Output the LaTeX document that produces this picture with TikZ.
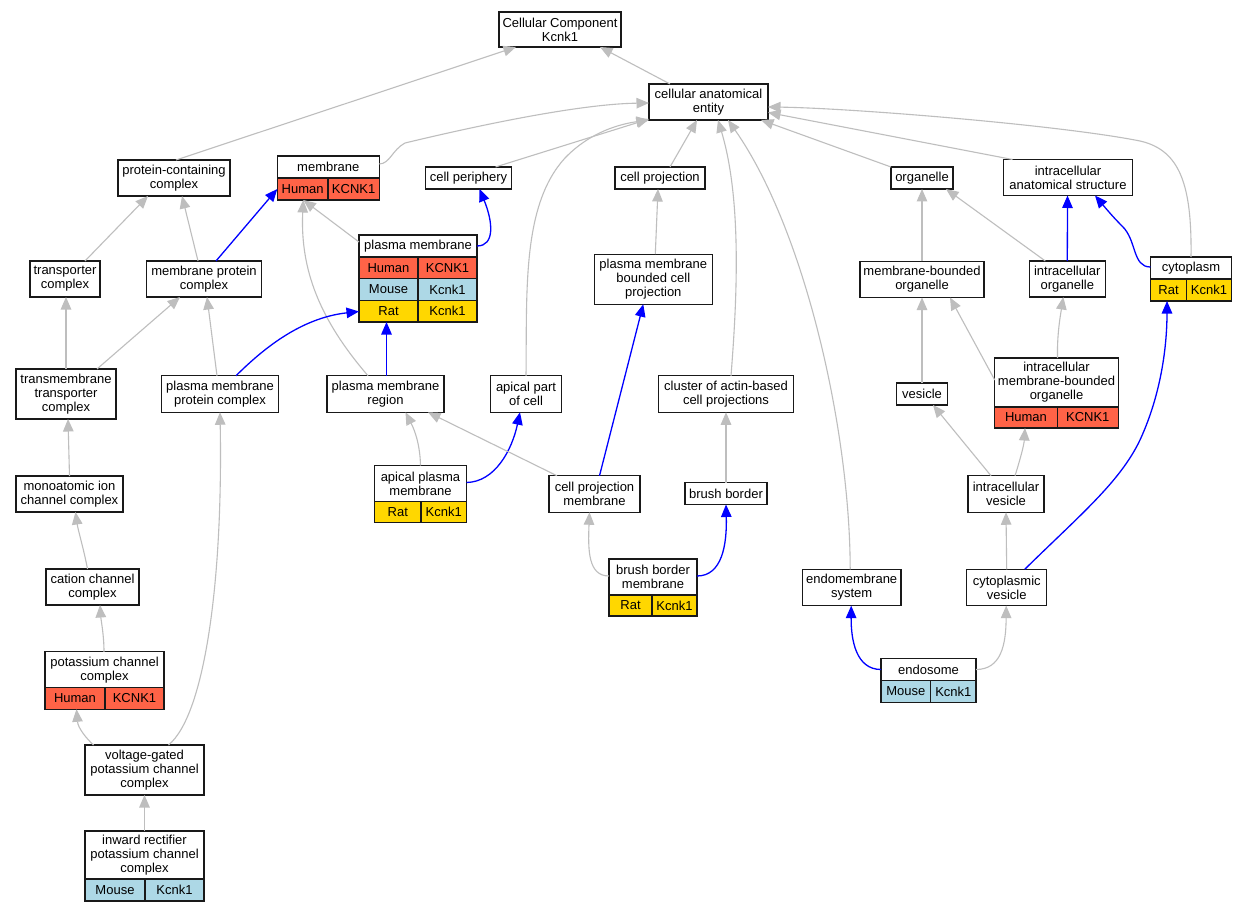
\documentclass[tikz,border=0pt]{standalone}
\usepackage{fontspec}
\setmainfont{Liberation Sans}
\usetikzlibrary{arrows.meta,calc}
\definecolor{human}{HTML}{FF6347}
\definecolor{mouse}{HTML}{ADD8E6}
\definecolor{rat}{HTML}{FFD700}
\definecolor{edgegray}{HTML}{BEBEBE}
\definecolor{edgeblue}{HTML}{0000FF}
\tikzset{
  box/.style={draw=black!90, line width=1.1pt, fill=white, inner sep=0pt, outer sep=0pt, align=center, font=\fontsize{13}{14}\selectfont},
  cellbox/.style={box},
  framebox/.style={inner sep=0pt, outer sep=0pt},
  grayedge/.style={draw=edgegray, line width=1.1pt, -{Triangle[length=12.5pt,width=10.5pt]}},
  blueedge/.style={draw=edgeblue, line width=1.3pt, -{Triangle[length=12.5pt,width=10.5pt]}},
}
\newcommand\bx[5]{\node[box, minimum width=#4, minimum height=#5] (#1) at (#2) {#3};}
\newcommand\tbl[6]{%
  \node[framebox, minimum width=#4, minimum height=#5] (#1) at (#2) {};
  \node[box, anchor=north, minimum width=#4, minimum height=#6] (#1-h) at (#1.north) {#3};}
\newcommand\trow[9]{%
  \node[cellbox, fill=#7, anchor=north west, minimum width=#4, minimum height=#6] (#1-#2a) at ($(#1.north west)+(0,#3)$) {#8};
  \node[cellbox, fill=#7, anchor=north east, minimum width=#5-#4, minimum height=#6] (#1-#2b) at ($(#1.north east)+(0,#3)$) {#9};}
\begin{document}
\begin{tikzpicture}[x=1pt,y=-1pt]
\fill[white] (0,0) rectangle (1248,912);
\useasboundingbox (0,0) rectangle (1248,912);
% plain boxes
\bx{cc}{560,29.5}{Cellular Component\\Kcnk1}{122}{35}
\bx{cae}{708.5,102}{cellular anatomical\\entity}{119}{36}
\bx{pcc}{174,178}{protein-containing\\complex}{112}{36}
\bx{cper}{468.5,178}{cell periphery}{86}{22}
\bx{cproj}{660,178}{cell projection}{90}{22}
\bx{org}{922,178}{organelle}{62}{22}
\bx{ias}{1068,177.5}{intracellular\\anatomical structure}{129}{36}
\bx{tc}{65,279}{transporter\\complex}{70}{36}
\bx{mpc}{204,279}{membrane protein\\complex}{115}{36}
\bx{pmbcp}{653.3,279.2}{plasma membrane\\bounded cell\\projection}{118}{50}
\bx{mbo}{922,279.5}{membrane-bounded\\organelle}{124}{36}
\bx{io}{1067.3,279}{intracellular\\organelle}{76}{36}
\bx{ttc}{66,394}{transmembrane\\transporter\\complex}{100}{50}
\bx{pmpc}{220,394}{plasma membrane\\protein complex}{117.5}{36.5}
\bx{pmr}{385.5,394}{plasma membrane\\region}{117}{36.5}
\bx{apc}{526,394}{apical part\\of cell}{70.5}{36.5}
\bx{cabcp}{726,394}{cluster of actin-based\\cell projections}{135}{36.5}
\bx{ves}{922,394}{vesicle}{51}{22}
\bx{cpm}{594.5,494}{cell projection\\membrane}{91}{36.5}
\bx{bb}{726,493.5}{brush border}{82}{22}
\bx{iv}{1006,494}{intracellular\\vesicle}{76}{36.5}
\bx{mic}{69.5,494}{monoatomic ion\\channel complex}{107}{36}
\bx{ccc}{92.5,587}{cation channel\\complex}{93}{36}
\bx{ems}{851.7,587.5}{endomembrane\\system}{98.5}{36.3}
\bx{cv}{1006.7,587.5}{cytoplasmic\\vesicle}{80}{36.3}
\bx{vgkcc}{144.5,770}{voltage-gated\\potassium channel\\complex}{119}{50}
% table boxes
\tbl{mem}{328.3,178}{membrane}{102}{44}{22}
\trow{mem}{1}{22}{50.7}{102}{22}{human}{Human}{KCNK1}
\tbl{pm}{418,278.5}{plasma membrane}{118}{87}{22}
\trow{pm}{1}{22}{59}{118}{21.67}{human}{Human}{KCNK1}
\trow{pm}{2}{43.67}{59}{118}{21.67}{mouse}{Mouse}{Kcnk1}
\trow{pm}{3}{65.33}{59}{118}{21.67}{rat}{Rat}{Kcnk1}
\tbl{cyto}{1191,279}{cytoplasm}{81}{44}{22}
\trow{cyto}{1}{22}{36}{81}{22}{rat}{Rat}{Kcnk1}
\tbl{imbo}{1056.5,393}{intracellular\\membrane-bounded\\organelle}{123.5}{70}{49}
\trow{imbo}{1}{49}{62.5}{123.5}{21}{human}{Human}{KCNK1}
\tbl{apm}{420.5,494}{apical plasma\\membrane}{92}{57}{36}
\trow{apm}{1}{36}{46.5}{92}{21}{rat}{Rat}{Kcnk1}
\tbl{bbm}{653,587.5}{brush border\\membrane}{88}{57}{36}
\trow{bbm}{1}{36}{43}{88}{21}{rat}{Rat}{Kcnk1}
\tbl{kcc}{104.5,680.5}{potassium channel\\complex}{119}{57.5}{36}
\trow{kcc}{1}{36}{60}{119}{21.5}{human}{Human}{KCNK1}
\tbl{endo}{928.5,680.5}{endosome}{95}{44}{22}
\trow{endo}{1}{22}{49.7}{95}{22}{mouse}{Mouse}{Kcnk1}
\tbl{irkcc}{144.5,866}{inward rectifier\\potassium channel\\complex}{119}{70}{48}
\trow{irkcc}{1}{48}{60}{119}{22}{mouse}{Mouse}{Kcnk1}
% edges
\draw[grayedge] ($(cae.north)+(-38.5,0)$) -- ($(cc.south)+(40,0)$);
\draw[grayedge] ($(pcc.north)+(2,0)$) -- ($(cc.south)+(-44,0)$);
\draw[grayedge] ($(mem.north east)+(0,8)$) .. controls (390,163.7) and (392,150) .. (405,143) .. controls (480,125) and (580,104) .. ($(cae.west)+(0,1)$);
\draw[grayedge] ($(cper.north)+(27,0)$) -- ($(cae.south west)+(0,-1)$);
\draw[grayedge] (apc.north) .. controls (527,290) and (522,205) .. (565,158) .. controls (590,132) and (620,124) .. (cae.south west);
\draw[grayedge] ($(cproj.north)+(10,0)$) -- ($(cae.south)+(-11.5,0)$);
\draw[grayedge] ($(cabcp.north)+(5,0)$) .. controls (737,300) and (742,200) .. ($(cae.south)+(9.5,0)$);
\draw[grayedge] ($(ems.north)+(-1.5,0)$) .. controls (850,430) and (805,230) .. ($(cae.south)+(19.5,0)$);
\draw[grayedge] (org.north west) -- ($(cae.south east)+(-7,0)$);
\draw[grayedge] ($(ias.north west)+(9,0)$) -- ($(cae.east)+(0,10.5)$);
\draw[grayedge] (cyto.north) .. controls (1192,185) and (1180,150) .. (1140,141) .. controls (1060,125) and (850,108) .. ($(cae.east)+(0,5)$);
\draw[grayedge] ($(tc.north)+(20,0)$) -- ($(pcc.south)+(-26,0)$);
\draw[grayedge] ($(mpc.north)+(-6,0)$) -- ($(pcc.south)+(8,0)$);
\draw[blueedge] ($(mpc.north)+(12,0)$) -- ($(mem.west)+(0,11)$);
\draw[grayedge] ($(pm.north west)+(0,7)$) -- ($(mem.south)+(-25,0)$);
\draw[grayedge] ($(pmr.north west)+(41,0)$) .. controls (320,320) and (300,270) .. ($(mem.south)+(-25,0)$);
\draw[blueedge] ($(pm.north east)+(0,11)$) .. controls (495,246) and (493,222) .. ($(cper.south)+(11,0)$);
\draw[grayedge] (ttc.north) -- ($(tc.south)+(1,0)$);
\draw[grayedge] ($(ttc.north)+(31,0)$) -- ($(mpc.south)+(-24,0)$);
\draw[grayedge] ($(pmpc.north)+(-3,0)$) -- ($(mpc.south)+(3,0)$);
\draw[blueedge] ($(pmpc.north)+(16,0)$) .. controls (262,350) and (300,318) .. ($(pm.west)+(0,33)$);
\draw[blueedge] ($(pmr.north)+(1,0)$) -- ($(pm.south)+(-31.5,0)$);
\draw[grayedge] ($(pmbcp.north)+(2,0)$) -- ($(cproj.south)+(-2,0)$);
\draw[grayedge] (mbo.north) -- (org.south);
\draw[grayedge] ($(io.north)+(-22,0)$) -- ($(org.south east)+(-7,0)$);
\draw[blueedge] (io.north) -- ($(ias.south)+(-0.5,0)$);
\draw[blueedge] ($(cyto.north west)+(0,10)$) .. controls (1132,267) and (1137,240) .. (1122,226) .. controls (1112,216) and (1103,205) .. ($(ias.south)+(27,0)$);
\draw[grayedge] (mic.north) -- ($(ttc.south)+(2,0)$);
\draw[grayedge] (apm.north) .. controls (420,440) and (412,425) .. ($(pmr.south)+(20,0)$);
\draw[blueedge] ($(apm.north east)+(0,17)$) .. controls (495,482) and (512,450) .. ($(apc.south)+(-6,0)$);
\draw[grayedge] ($(cpm.north west)+(8,0)$) -- ($(pmr.south east)+(-16,0)$);
\draw[blueedge] ($(cpm.north)+(5,0)$) -- ($(pmbcp.south)+(-10,0)$);
\draw[grayedge] (bb.north) -- (cabcp.south);
\draw[grayedge] (ves.north) -- (mbo.south);
\draw[grayedge] ($(imbo.north west)+(0,22)$) -- ($(mbo.south east)+(-34,0)$);
\draw[grayedge] ($(imbo.north)+(1,0)$) .. controls (1057,335) and (1060,318) .. ($(io.south)+(-4,0)$);
\draw[grayedge] ($(iv.north)+(-15,0)$) -- ($(ves.south)+(11,0)$);
\draw[grayedge] ($(iv.north)+(9,0)$) .. controls (1020,460) and (1024,445) .. ($(imbo.south)+(-31.5,0)$);
\draw[grayedge] ($(ccc.north)+(-5,0)$) .. controls (84,550) and (78,530) .. ($(mic.south)+(6,0)$);
\draw[grayedge] ($(bbm.north west)+(0,17)$) .. controls (588,576) and (588,550) .. ($(cpm.south)+(-5,0)$);
\draw[blueedge] ($(bbm.north east)+(0,17)$) .. controls (722,576) and (727,545) .. (bb.south);
\draw[grayedge] (cv.north) -- (iv.south);
\draw[blueedge] ($(cv.north)+(18,0)$) .. controls (1080,515) and (1120,482) .. (1140,440) .. controls (1163,390) and (1167,340) .. ($(cyto.south)+(-24,0)$);
\draw[grayedge] ($(kcc.north)+(-0.5,0)$) .. controls (104,635) and (101,620) .. ($(ccc.south)+(7.5,0)$);
\draw[blueedge] ($(endo.north west)+(0,11)$) .. controls (856,669.5) and (851,640) .. ($(ems.south)+(-0.5,0)$);
\draw[grayedge] ($(endo.north east)+(0,11)$) .. controls (1001,669.5) and (1006,645) .. ($(cv.south)+(-0.5,0)$);
\draw[grayedge] ($(vgkcc.north)+(-51,0)$) .. controls (86,738) and (78,728) .. ($(kcc.south)+(-28,0)$);
\draw[grayedge] ($(vgkcc.north)+(24,0)$) .. controls (205,715) and (223,580) .. (pmpc.south);
\draw[grayedge] (irkcc.north) -- (vgkcc.south);
\end{tikzpicture}
\end{document}
